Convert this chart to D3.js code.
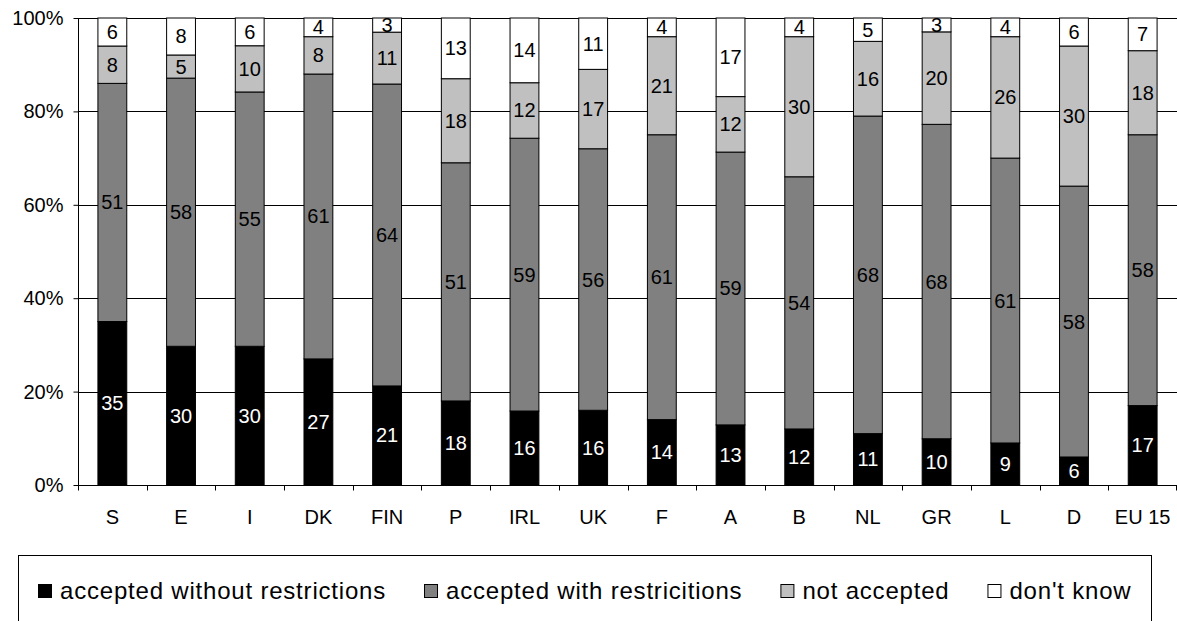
<!DOCTYPE html>
<html>
<head>
<meta charset="utf-8">
<script src="https://cdn.jsdelivr.net/npm/d3@7"></script>
<style>
  html, body { margin: 0; padding: 0; background: #fff; }
  svg { display: block; font-family: "Liberation Sans", Arial, sans-serif; }
</style>
</head>
<body>
<svg id="chart" width="1177" height="621"></svg>
<script>
// Countries (ordered by share accepting without restrictions), EU average last
const countries = ["S", "E", "I", "DK", "FIN", "P", "IRL", "UK", "F", "A", "B", "NL", "GR", "L", "D", "EU 15"];

// Answer shares per country, in percent
const withoutRestrictions = [35, 30, 30, 27, 21, 18, 16, 16, 14, 13, 12, 11, 10, 9, 6, 17];
const withRestrictions    = [51, 58, 55, 61, 64, 51, 59, 56, 61, 59, 54, 68, 68, 61, 58, 58];
const notAccepted         = [8, 5, 10, 8, 11, 18, 12, 17, 21, 12, 30, 16, 20, 26, 30, 18];
const dontKnow            = [6, 8, 6, 4, 3, 13, 14, 11, 4, 17, 4, 5, 3, 4, 6, 7];

const seriesNames = ["accepted without restrictions", "accepted with restricitions", "not accepted", "don't know"];
const seriesColors = ["#000000", "#808080", "#c0c0c0", "#ffffff"];
const labelColors = ["#ffffff", "#000000", "#000000", "#000000"];
const yTicks = [0, 0.2, 0.4, 0.6, 0.8, 1];

(function () {
  const seriesValues = [withoutRestrictions, withRestrictions, notAccepted, dontKnow];
  const rows = countries.map((c, i) => {
    const r = { country: c };
    seriesNames.forEach((s, k) => { r[s] = seriesValues[k][i]; });
    return r;
  });

  const svg = d3.select("#chart");
  const plotLeft = 78, plotRight = 1177, plotTop = 18, plotBottom = 485;

  const x = d3.scaleBand().domain(countries).range([plotLeft, plotRight])
    .paddingInner(0.58).paddingOuter(0.29);
  const y = d3.scaleLinear().domain([0, 1]).range([plotBottom, plotTop]);

  // 100% stacked layout
  const stacked = d3.stack().keys(seriesNames).offset(d3.stackOffsetExpand)(rows);

  // Horizontal gridlines
  svg.append("g")
    .selectAll("line")
    .data(yTicks.filter(t => t > 0))
    .join("line")
    .attr("x1", plotLeft).attr("x2", plotRight)
    .attr("y1", d => Math.round(y(d)) + 0.5).attr("y2", d => Math.round(y(d)) + 0.5)
    .attr("stroke", "#000").attr("stroke-width", 1);

  // Bars
  const layers = svg.append("g").selectAll("g")
    .data(stacked)
    .join("g")
    .attr("fill", (d, i) => seriesColors[i]);

  layers.selectAll("rect")
    .data(d => d)
    .join("rect")
    .attr("x", d => x(d.data.country))
    .attr("y", d => y(d[1]))
    .attr("width", x.bandwidth())
    .attr("height", d => y(d[0]) - y(d[1]))
    .attr("stroke", "#000")
    .attr("stroke-width", 1);

  // Value labels centred in each segment
  stacked.forEach((layer, k) => {
    svg.append("g")
      .selectAll("text")
      .data(layer)
      .join("text")
      .attr("x", d => x(d.data.country) + x.bandwidth() / 2)
      .attr("y", d => y((d[0] + d[1]) / 2))
      .attr("dy", "0.35em")
      .attr("text-anchor", "middle")
      .attr("font-size", 20)
      .attr("fill", labelColors[k])
      .text(d => d.data[layer.key]);
  });

  // Y axis
  const yAxis = d3.axisLeft(y).tickValues(yTicks).tickFormat(d3.format(".0%")).tickSize(5).tickPadding(10);
  const gy = svg.append("g").attr("transform", `translate(${plotLeft + 0.5},0)`).call(yAxis);
  gy.select(".domain").attr("d", `M0,${plotTop}V${plotBottom}`).attr("stroke", "#000");
  gy.selectAll("text").attr("font-size", 20).attr("font-family", "Liberation Sans, Arial, sans-serif").attr("fill", "#000");

  // X axis with ticks between categories
  const gx = svg.append("g").attr("transform", `translate(0,${Math.round(plotBottom) + 0.5})`);
  gx.append("line").attr("x1", plotLeft).attr("x2", plotRight).attr("stroke", "#000");
  const step = x.step();
  const boundaries = countries.map(c => x(c) - step * x.paddingInner() / 2).concat([plotRight - 1.5]);
  gx.selectAll("line.tick")
    .data(boundaries)
    .join("line")
    .attr("class", "tick")
    .attr("x1", d => Math.round(d) + 0.5).attr("x2", d => Math.round(d) + 0.5)
    .attr("y1", 0).attr("y2", 5)
    .attr("stroke", "#000");
  gx.selectAll("text")
    .data(countries)
    .join("text")
    .attr("x", d => x(d) + x.bandwidth() / 2)
    .attr("y", 38)
    .attr("text-anchor", "middle")
    .attr("font-size", 20)
    .attr("fill", "#000")
    .text(d => d);

  // Legend
  const legend = svg.append("g");
  legend.append("rect")
    .attr("x", 18.5).attr("y", 555.5)
    .attr("width", 1133).attr("height", 90)
    .attr("fill", "#fff").attr("stroke", "#000");
  let lx = 38;
  seriesNames.forEach((name, i) => {
    legend.append("rect")
      .attr("x", lx + 0.5).attr("y", 584.5)
      .attr("width", 13).attr("height", 13)
      .attr("fill", seriesColors[i]).attr("stroke", "#000");
    const t = legend.append("text")
      .attr("x", lx + 22).attr("y", 599)
      .attr("font-size", 24)
      .attr("letter-spacing", 0.8)
      .attr("fill", "#000")
      .text(name);
    lx += 22 + t.node().getComputedTextLength() + 38;
  });
})();
</script>
</body>
</html>
